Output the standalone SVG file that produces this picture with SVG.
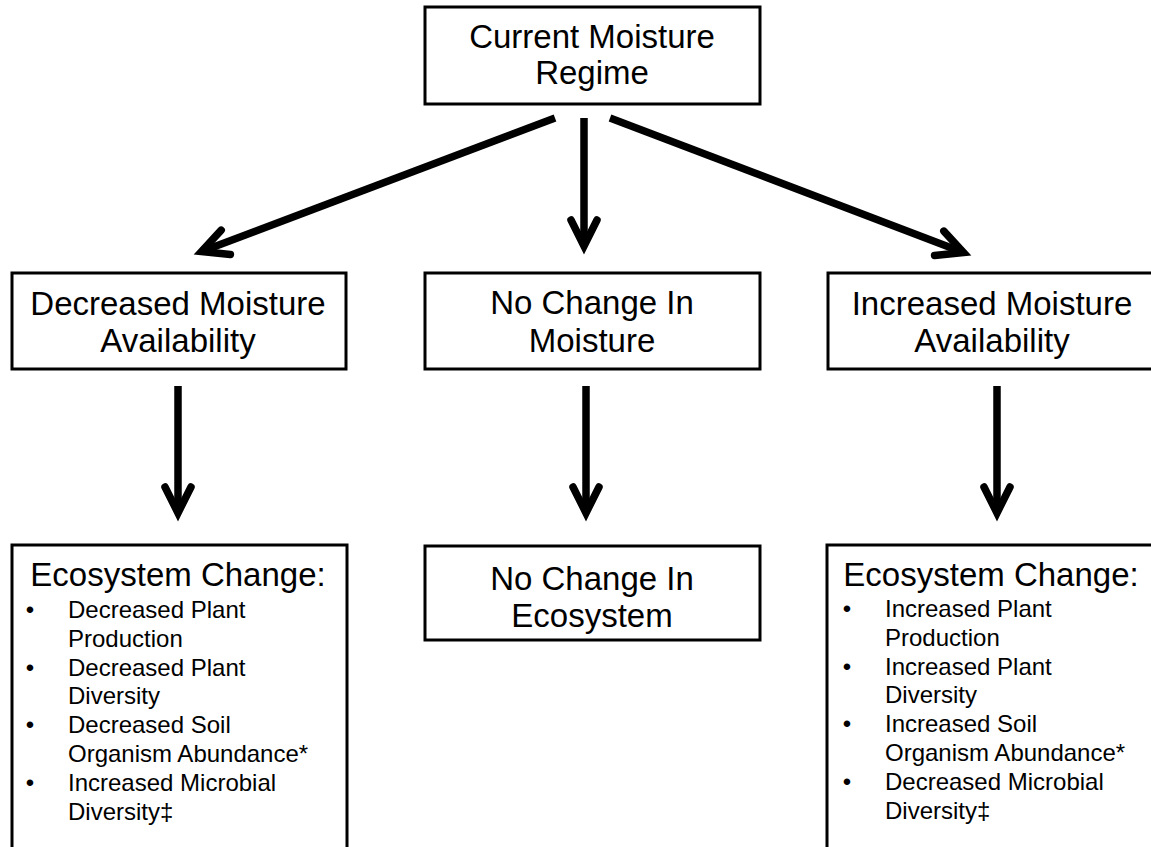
<svg xmlns="http://www.w3.org/2000/svg" width="1151" height="847" viewBox="0 0 1151 847">
<defs>
<style>
.box{fill:#fff;stroke:#000;stroke-width:3}
.t{font-family:"Liberation Sans",Arial,sans-serif;font-size:33px;fill:#000;text-anchor:middle}
.b{font-family:"Liberation Sans",Arial,sans-serif;font-size:24px;fill:#000}
.bm{text-anchor:middle}
.arr{fill:none;stroke:#000;stroke-width:7.5;stroke-linecap:butt;marker-end:url(#ah)}
</style>
<marker id="ah" markerUnits="userSpaceOnUse" viewBox="-40 -24 50 48" markerWidth="50" markerHeight="48" refX="0" refY="0" orient="auto" overflow="visible">
<path d="M-26,-13 L0,0 L-26,13" fill="none" stroke="#000" stroke-width="7.5" stroke-linecap="round" stroke-linejoin="miter"/>
</marker>
</defs>
<rect width="1151" height="847" fill="#fff"/>
<g id="connectors">
<line class="arr" x1="555" y1="118" x2="201.5" y2="251.5"/>
<line class="arr" x1="584" y1="118" x2="584" y2="246"/>
<line class="arr" x1="610" y1="118" x2="963.5" y2="252.5"/>
<line class="arr" x1="178" y1="386" x2="178" y2="513"/>
<line class="arr" x1="586" y1="386" x2="586" y2="513"/>
<line class="arr" x1="997" y1="386" x2="997" y2="513"/>
</g>
<g id="current">
<rect class="box" x="425" y="7" width="335" height="97"/>
<text class="t" x="592" y="48">Current Moisture</text>
<text class="t" x="592" y="84">Regime</text>
</g>
<g id="decreased">
<rect class="box" x="12" y="273" width="334" height="96"/>
<text class="t" x="178" y="315">Decreased Moisture</text>
<text class="t" x="178" y="352">Availability</text>
</g>
<g id="nochange">
<rect class="box" x="425" y="273" width="335" height="96"/>
<text class="t" x="592" y="314">No Change In</text>
<text class="t" x="592" y="352">Moisture</text>
</g>
<g id="increased">
<rect class="box" x="828" y="273" width="335" height="96"/>
<text class="t" x="992" y="315">Increased Moisture</text>
<text class="t" x="992" y="352">Availability</text>
</g>
<g id="eco-decreased">
<rect class="box" x="12" y="545" width="335" height="320"/>
<text class="t" x="178" y="586">Ecosystem Change:</text>
<text class="b bm" x="30" y="618">•</text>
<text class="b" x="68" y="618">Decreased Plant</text>
<text class="b" x="68" y="647">Production</text>
<text class="b bm" x="30" y="676">•</text>
<text class="b" x="68" y="676">Decreased Plant</text>
<text class="b" x="68" y="704">Diversity</text>
<text class="b bm" x="30" y="733">•</text>
<text class="b" x="68" y="733">Decreased Soil</text>
<text class="b" x="68" y="762">Organism Abundance*</text>
<text class="b bm" x="30" y="791">•</text>
<text class="b" x="68" y="791">Increased Microbial</text>
<text class="b" x="68" y="820">Diversity‡</text>
</g>
<g id="eco-nochange">
<rect class="box" x="425" y="546" width="335" height="94"/>
<text class="t" x="592" y="590">No Change In</text>
<text class="t" x="592" y="627">Ecosystem</text>
</g>
<g id="eco-increased">
<rect class="box" x="827" y="545" width="335" height="320"/>
<text class="t" x="991" y="586">Ecosystem Change:</text>
<text class="b bm" x="847" y="617">•</text>
<text class="b" x="885" y="617">Increased Plant</text>
<text class="b" x="885" y="646">Production</text>
<text class="b bm" x="847" y="675">•</text>
<text class="b" x="885" y="675">Increased Plant</text>
<text class="b" x="885" y="703">Diversity</text>
<text class="b bm" x="847" y="732">•</text>
<text class="b" x="885" y="732">Increased Soil</text>
<text class="b" x="885" y="761">Organism Abundance*</text>
<text class="b bm" x="847" y="790">•</text>
<text class="b" x="885" y="790">Decreased Microbial</text>
<text class="b" x="885" y="819">Diversity‡</text>
</g>
</svg>
